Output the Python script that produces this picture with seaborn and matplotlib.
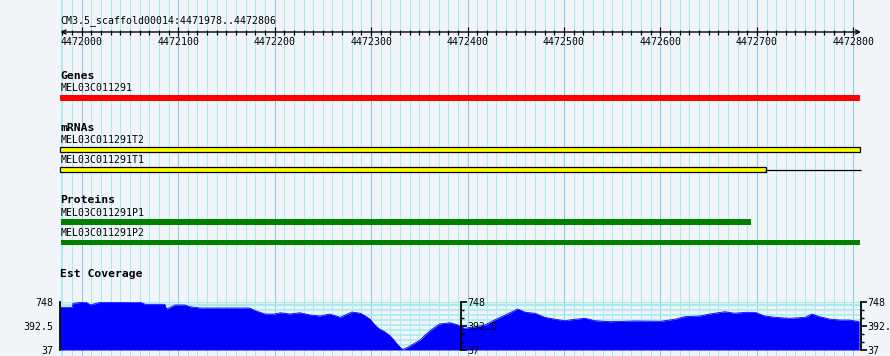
import numpy as np
import seaborn as sns
import matplotlib.pyplot as plt

# =======================
# Data
# =======================
region_name = "CM3.5_scaffold00014"
region_start = 4471978
region_end = 4472806

ruler_major = list(range(4472000, 4472801, 100))
ruler_minor = list(range(4471980, 4472806, 10))

gene_names = ["MEL03C011291"]
gene_starts = [4471978]
gene_ends = [4472806]

mrna_names = ["MEL03C011291T2", "MEL03C011291T1"]
mrna_starts = [4471978, 4471978]
mrna_cds_ends = [4472806, 4472708]
mrna_ends = [4472806, 4472806]

protein_names = ["MEL03C011291P1", "MEL03C011291P2"]
protein_starts = [4471978, 4471978]
protein_ends = [4472693, 4472806]

# Est coverage
cov_pos = [4471978, 4471990, 4471991, 4472004, 4472009, 4472019, 4472040, 4472060,
           4472066, 4472086, 4472088, 4472097, 4472107, 4472112, 4472123, 4472174,
           4472180, 4472190, 4472200, 4472206, 4472216, 4472226, 4472237, 4472247,
           4472257, 4472268, 4472280, 4472289, 4472294, 4472299, 4472304, 4472309,
           4472314, 4472320, 4472325, 4472330, 4472333, 4472338, 4472345, 4472351,
           4472356, 4472363, 4472371, 4472382, 4472390, 4472397, 4472408, 4472418,
           4472428, 4472439, 4472452, 4472460, 4472470, 4472480, 4472491, 4472501,
           4472511, 4472522, 4472532, 4472548, 4472574, 4472600, 4472615, 4472625,
           4472641, 4472651, 4472667, 4472677, 4472688, 4472698, 4472708, 4472719,
           4472734, 4472750, 4472757, 4472765, 4472775, 4472786, 4472796, 4472806]
cov_val = [669, 669, 729, 748, 704, 743, 743, 748,
           714, 714, 644, 704, 704, 678, 659, 659,
           619, 570, 570, 589, 570, 589, 555, 541,
           570, 521, 600, 581, 541, 492, 407, 344,
           308, 244, 160, 77, 44, 77, 136, 185,
           259, 344, 422, 441, 407, 358, 382, 407,
           481, 555, 644, 595, 581, 521, 492, 471,
           492, 507, 471, 456, 467, 462, 492, 530,
           541, 570, 604, 581, 595, 595, 541, 521,
           507, 521, 570, 530, 496, 481, 481, 456]
cov_min = 37
cov_max = 748
cov_ticks = [37, 392.5, 748]
cov_tick_labels = ["37", "392.5", "748"]

# =======================
# Style
# =======================
sns.set_theme(style="white")
plt.rcParams["font.family"] = ["DejaVu Sans Mono"]
plt.rcParams["text.color"] = "black"
plt.rcParams["ytick.color"] = "black"
plt.rcParams["ytick.labelcolor"] = "black"

bg = "#F1F5FA"
grid_minor = "#A8ECF0"
grid_major = "#88C8EC"
small = 7.1
bold = 8.2

W, H = 890, 356
px_per_bp = 0.9645
x0_px = 60.5

fig = plt.figure(figsize=(W / 100, H / 100), dpi=100, facecolor=bg)
ax = fig.add_axes([0, 0, 1, 1])
ax.set_facecolor(bg)
ax.set_xlim(region_start - x0_px / px_per_bp, region_start + (W - x0_px) / px_per_bp)
ax.set_ylim(H, 0)
ax.axis("off")

# grid lines (1 px wide)
grid_kw = dict(lw=0.72, antialiased=False, snap=True)
ax.vlines([region_start], 0, H, color=grid_minor, zorder=0, **grid_kw)
ax.vlines([p for p in ruler_minor if p % 100], 0, H, color=grid_minor, zorder=0, **grid_kw)
ax.vlines(ruler_major, 0, H, color=grid_major, zorder=0.5, **grid_kw)

# ruler
ax.text(region_start, 21, f"{region_name}:{region_start}..{region_end}",
        fontsize=small, ha="left", va="center")
ax.annotate("", xy=(region_start, 32), xytext=(region_end + 2, 32),
            arrowprops=dict(arrowstyle="<->", lw=1.0, color="black",
                            mutation_scale=7, shrinkA=0, shrinkB=0))
ax.vlines([p for p in ruler_minor if p % 100], 29.5, 35, color="black", lw=0.9)
ax.vlines(ruler_major, 27, 35.5, color="black", lw=0.9)
for p in ruler_major:
    ax.text(p, 42, str(p), fontsize=small, ha="center", va="center")

# Genes
ax.text(region_start, 76, "Genes", fontsize=bold, fontweight="bold", ha="left", va="center")
for i, name in enumerate(gene_names):
    ax.text(region_start, 88, name, fontsize=small, ha="left", va="center")
    ax.barh(98, gene_ends[i] - gene_starts[i] + 2, left=gene_starts[i] - 1,
            height=6, color="#FF0000", lw=0)

# mRNAs
ax.text(region_start, 128, "mRNAs", fontsize=bold, fontweight="bold", ha="left", va="center")
for i, name in enumerate(mrna_names):
    yl = 140 + 20 * i
    yb = 149.5 + 20 * i
    ax.text(region_start, yl, name, fontsize=small, ha="left", va="center")
    if mrna_ends[i] > mrna_cds_ends[i]:
        ax.hlines(yb, mrna_cds_ends[i], mrna_ends[i] + 2, color="black", lw=0.9)
    ax.barh(yb, mrna_cds_ends[i] - mrna_starts[i] + 2, left=mrna_starts[i] - 1,
            height=4.5, color="#FFFF00", edgecolor="black", lw=0.9)

# Proteins
ax.text(region_start, 200, "Proteins", fontsize=bold, fontweight="bold", ha="left", va="center")
for i, name in enumerate(protein_names):
    yl = 212.5 + 20.5 * i
    yb = 222 + 20.5 * i
    ax.text(region_start, yl, name, fontsize=small, ha="left", va="center")
    ax.barh(yb, protein_ends[i] - protein_starts[i] + 1, left=protein_starts[i],
            height=5.5, color="#008000", lw=0)

# Est Coverage
ax.text(region_start, 274, "Est Coverage", fontsize=bold, fontweight="bold", ha="left", va="center")

cax = fig.add_axes([x0_px / W, 6 / H, 800 / W, 48 / H])
cax.patch.set_alpha(0)
cax.set_xlim(region_start, region_start + 800 / px_per_bp)
cax.set_ylim(cov_min, cov_max)
for v in np.arange(cov_min, cov_max, 74):
    cax.axhline(v, color=grid_minor, lw=1.2, zorder=0)
cax.axhline(cov_max, color=grid_minor, lw=1.6, zorder=0)
cax.axhline(cov_max - 50, color=grid_minor, lw=1.6, zorder=0)
cax.fill_between(cov_pos, cov_min, cov_val, color="#0000FF", lw=0, zorder=2)
sns.lineplot(x=cov_pos, y=cov_val, ax=cax, color="#0000FF", lw=0.6, zorder=3)
cax.set_xticks([])
for s in ["top", "bottom", "right"]:
    cax.spines[s].set_visible(False)
cax.spines["left"].set_linewidth(1.3)
cax.spines["left"].set_color("black")

minor_ticks = [cov_min + k * (cov_max - cov_min) / 6 for k in (1, 2, 4, 5)]


def style_axis(a):
    a.set_yticks(cov_ticks)
    a.set_yticklabels(cov_tick_labels)
    a.set_yticks(minor_ticks, minor=True)
    a.tick_params(axis="y", which="major", length=4, width=1.2, pad=1,
                  labelsize=small, colors="black")
    a.tick_params(axis="y", which="minor", length=2.5, width=1.0, colors="black")


style_axis(cax)
for loc in ["right", 0.5]:
    sec = cax.secondary_yaxis(loc)
    sec.set_zorder(10)
    style_axis(sec)
    for s in sec.spines.values():
        s.set_linewidth(1.3)
        s.set_color("black")

fig.savefig("out.png", dpi=100, facecolor=bg)
